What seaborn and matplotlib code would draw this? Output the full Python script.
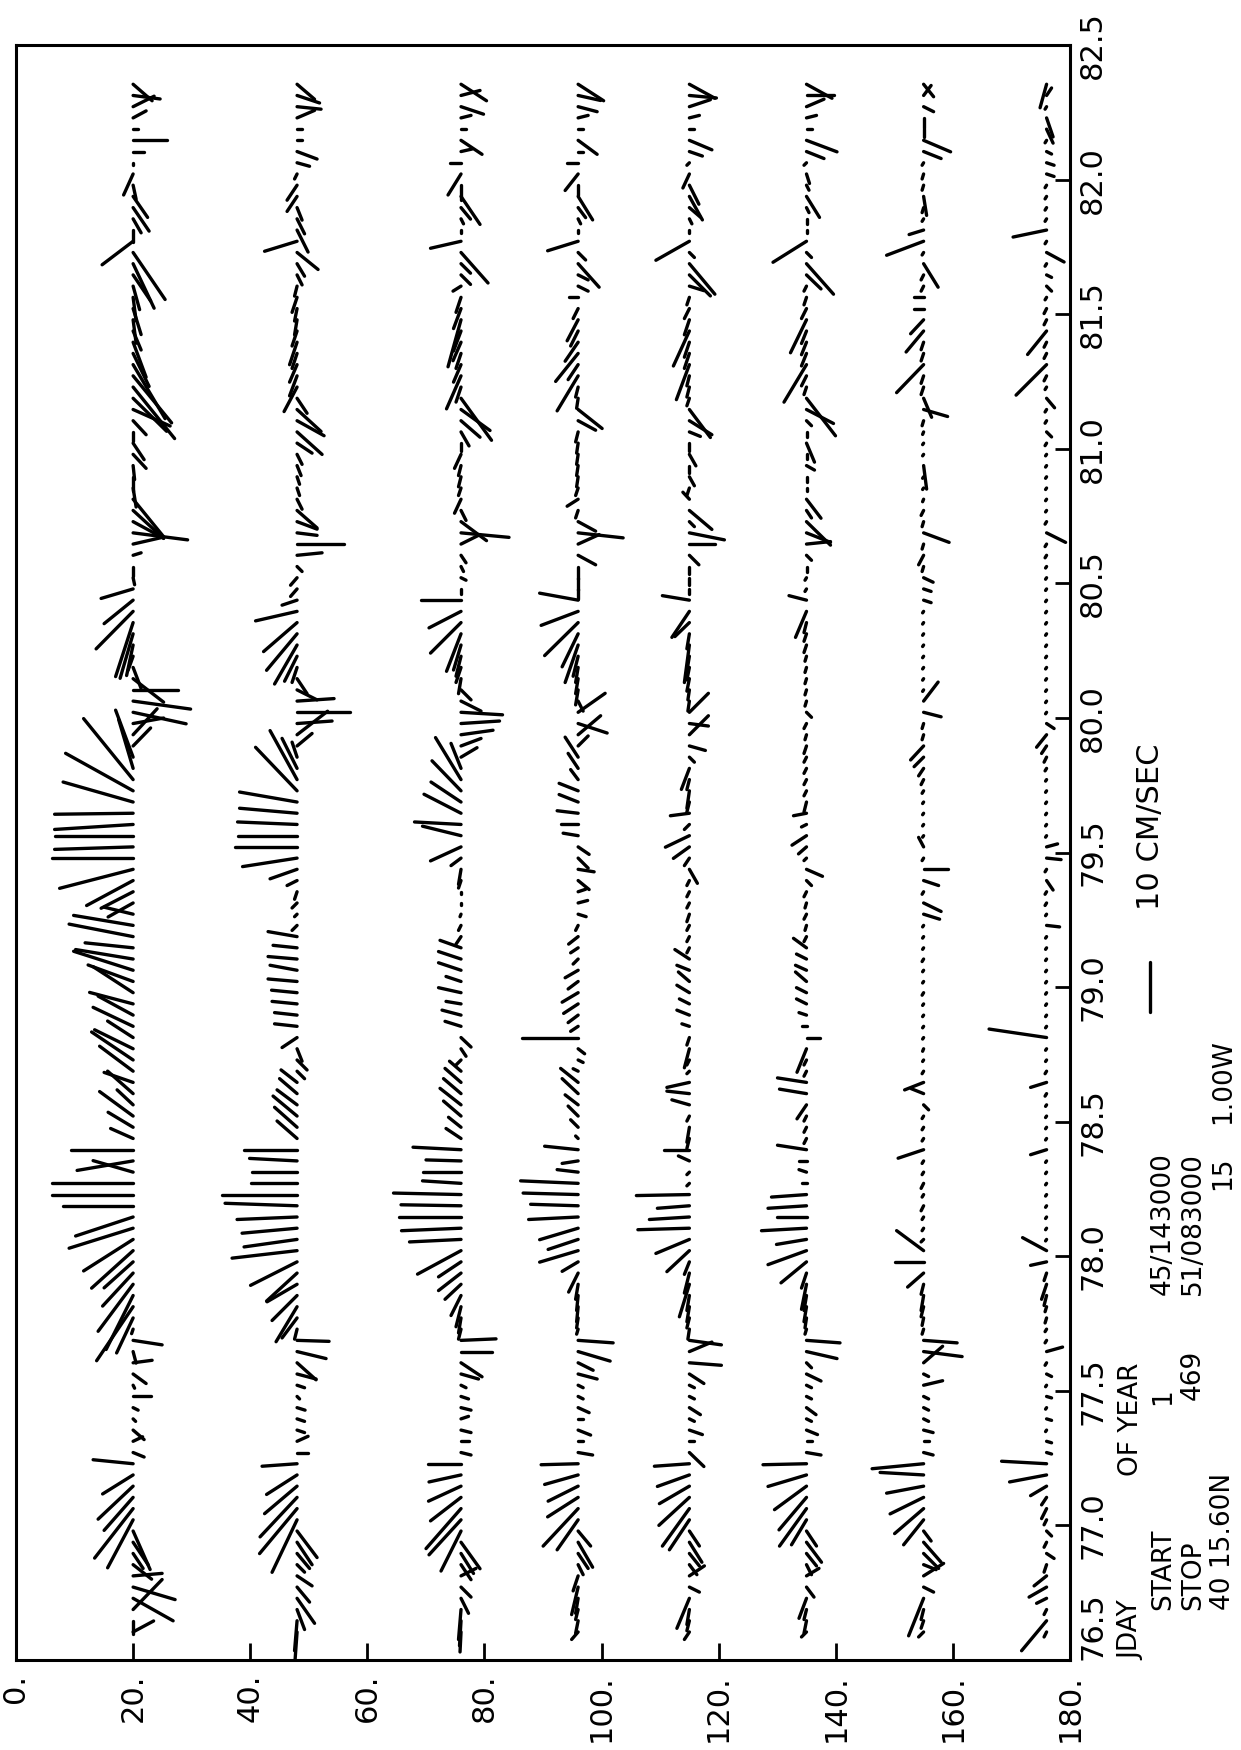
import numpy as np
import matplotlib
matplotlib.use("Agg")
import matplotlib.pyplot as plt
from matplotlib.collections import LineCollection
import seaborn as sns

# ---------------------------------------------------------------------------
# Current-meter stick data: hourly records, 45/143000 -> 51/083000
# JDAY of first record = 76 + 14.5 h
# ---------------------------------------------------------------------------
jday_start = 76.0 + 14.5 / 24.0
n_rec = 139
jday = jday_start + np.arange(n_rec) / 24.0

depths = [20, 48, 76, 96, 115, 135, 155, 176]

# north (v) and east (u) components, cm/s, one list per instrument depth
v20 = [-4.1, 0.0, -5.8, -8.0, -8.4, -5.8, -3.7, -2.0, -3.0, -3.4,
       5.1, 7.7, 5.8, 7.0, 6.1, 8.0, -2.2, -1.9, -2.2, -0.5,
       -1.0, -3.5, -0.3, -2.6, -3.8, -0.6, -5.8, 0.3, 3.3, 7.3,
       5.4, 7.0, 6.1, 5.8, 8.3, 9.9, 12.8, 11.5, 14.0, 16.3,
       16.3, 8.0, 11.2, 12.5, 4.5, 5.0, 6.7, 3.2, 5.1, 5.8,
       6.7, 8.3, 7.7, 5.1, 8.0, 7.0, 8.7, 8.0, 9.0, 11.9,
       11.5, 9.6, 12.8, 11.9, 5.8, 5.0, 6.4, 9.3, 14.7, 16.3,
       15.7, 15.7, 15.7, 15.7, 14.0, 13.5, 9.9, 2.9, 3.5, -3.5,
       -4.8, -6.1, -10.6, -11.5, -9.0, -6.1, -1.6, 1.0, 1.3, 2.6,
       3.5, 7.4, 5.8, 6.4, -0.3, 0.0, -1.6, -6.1, -10.9, -6.1,
       -6.1, -6.1, -0.6, 0.0, -0.3, -2.6, -2.2, 0.0, -2.6, -7.4,
       -6.7, -8.3, -7.7, -6.4, -3.2, -2.6, -1.6, -0.6, -1.6, -0.6,
       -1.3, -3.5, -4.2, -6.4, 6.2, 0.0, -1.6, -3.2, -2.9, -0.6,
       1.9, 0.0, -2.2, -6.7, -1.0, -2.6, -4.2, -5.4, -3.8]
u20 = [2.2, -2.6, 6.0, -4.5, -2.5, 0.5, -2.9, -3.0, -4.5, -7.7,
       -9.6, -9.9, -6.6, -6.6, -3.8, 0.8, -0.9, 0.9, -1.9, -0.5,
       -0.5, 0.0, -0.6, -1.9, 0.5, -2.3, -0.9, -0.9, -7.0, -10.8,
       -10.8, -9.4, -6.6, -5.2, -7.5, -6.3, -4.0, -3.8, 0.0, 0.0,
       0.0, 2.3, -1.9, 0.0, 2.0, 3.0, 4.9, 3.0, 4.5, 2.0,
       5.0, 5.6, 3.8, 3.3, 3.8, 3.8, 2.3, 5.2, 3.3, 3.8,
       1.9, 1.0, 2.5, 2.0, 1.4, -2.8, -3.3, -5.0, -3.8, 0.0,
       -0.5, 0.0, -1.0, -0.2, 4.0, 7.5, 12.2, 9.8, 9.4, 3.6,
       5.2, 1.1, -2.3, -1.6, 0.0, -4.7, -4.2, -2.8, -6.1, -8.9,
       -10.8, -7.5, -4.7, -1.9, -1.4, -1.9, 0.5, 1.4, -1.4, -3.3,
       -5.6, -7.5, -3.8, -2.8, -2.8, -2.8, -3.3, -1.9, -2.8, -3.3,
       -6.6, -10.3, -9.4, -10.8, -6.6, -7.0, -3.8, -4.7, -5.2, -4.7,
       -4.7, -5.2, -8.9, -9.4, -4.7, -2.3, -2.8, -4.7, -4.2, -2.8,
       -4.2, -0.5, 0.0, 0.0, 0.0, 1.4, 2.1, -0.7, -3.3]

v48 = [0.5, 0.5, -1.5, -3.5, -2.5, -3.0, -1.5, -2.5, -3.0, -4.0,
       5.0, 7.5, 7.4, 6.5, 6.1, 7.0, -2.2, -2.2, -1.5, -1.5,
       -1.6, -0.5, -1.5, -3.8, -3.8, -5.8, -6.4, 0.5, 3.0, 4.2,
       5.0, 6.0, 6.1, 9.3, 13.0, 10.6, 11.0, 12.0, 14.4, 15.0,
       9.3, 9.0, 9.5, 10.6, 4.0, 4.5, 4.8, 4.0, 3.5, 3.2,
       -1.5, -2.0, -1.0, 3.0, 4.5, 4.5, 5.0, 5.1, 5.8, 5.4,
       5.8, 4.8, 5.8, 1.0, 0.5, 1.0, 0.5, 2.0, 5.4, 10.9,
       12.5, 11.9, 11.9, 11.5, 11.5, 8.3, 5.4, 3.0, 1.0, -3.0,
       -6.1, -7.0, -10.6, -7.4, -4.0, -2.0, 1.0, 2.5, 4.5, 6.1,
       6.7, 8.3, 3.0, 1.3, 1.3, -1.0, -5.0, -9.3, -4.0, -4.0,
       -4.0, -1.0, -0.5, -0.5, -0.8, -1.0, -3.0, -5.0, -5.4, -4.8,
       -2.0, 2.6, 1.5, 1.5, 1.0, 1.5, 1.0, 0.5, 0.5, 1.0,
       0.5, -1.0, -1.5, -4.2, 6.5, -2.2, -1.5, -1.0, 2.0, 2.0,
       0.5, -2.5, -4.0, -1.0, -1.0, -3.5, -4.8, -4.5, -3.5]
u48 = [-7.0, -6.0, -4.0, -5.0, -3.0, -2.0, -1.5, -3.0, -4.5, -5.3,
       -10.5, -9.0, -7.9, -5.5, -3.9, -0.5, 0.0, 1.0, -0.5, -0.5,
       -0.5, -0.5, -0.5, -1.0, -3.4, -1.4, -0.2, -2.0, -4.0, -7.0,
       -5.0, -3.5, -5.6, -4.7, -1.5, -1.5, -1.0, -0.5, 0.5, 0.0,
       0.0, 0.0, 0.5, 0.0, 3.5, 4.0, 4.0, 3.0, 3.0, 2.5,
       -1.5, -2.0, -2.5, -2.0, 0.5, 0.5, 0.5, 0.5, 0.5, 1.0,
       0.5, 0.5, 1.0, -1.0, -0.5, -1.0, -1.5, -1.0, -1.9, -1.7,
       0.0, 0.0, 0.5, 1.0, 2.0, 8.7, 9.8, 6.0, 3.0, 2.5,
       4.7, 0.5, 0.0, 0.5, -2.0, -3.0, -3.0, -5.0, -7.8, -7.3,
       -5.8, -1.9, -1.0, -1.5, -1.5, -1.0, 0.5, 0.0, -0.5, -1.5,
       -3.5, -2.0, -1.5, -1.5, -2.0, -2.0, -2.0, -4.5, -3.0, -4.4,
       -3.0, -4.9, -4.0, -3.5, -3.0, -4.5, -3.0, -3.0, -2.5, -3.0,
       -2.0, -2.0, -2.5, -3.4, -2.0, -4.4, -3.0, -2.5, -3.0, -3.0,
       -1.0, -0.7, -1.5, 0.0, 0.0, 1.5, -0.5, -1.5, -3.0]

v76 = [0.2, 0.3, 0.5, -1.5, -2.0, -3.0, -2.0, -2.5, -3.8, 4.0,
       6.4, 7.0, 6.1, 6.5, 6.4, 6.7, -2.0, -1.5, -2.0, -1.5,
       -2.0, -1.5, -1.0, -3.5, -4.2, -6.1, -7.0, 0.5, 0.5, 1.0,
       2.0, 3.2, 4.5, 4.5, 8.7, 10.3, 11.9, 12.5, 12.0, 13.5,
       7.7, 7.7, 7.0, 9.6, 3.0, 2.5, 3.5, 4.2, 3.5, 3.2,
       2.3, 1.0, -1.0, -2.0, 3.2, 3.8, 3.0, 4.5, 3.0, 4.5,
       4.5, 4.2, 1.0, 0.5, 0.2, 0.0, 0.0, 0.5, 0.5, 2.0,
       6.1, 7.7, 9.3, 7.4, 6.0, 5.8, 5.1, 2.0, -3.2, -4.0,
       -6.4, -7.7, -8.3, -4.0, -2.0, 0.5, 1.0, 1.0, 1.5, 2.9,
       6.1, 6.4, 8.0, 0.0, -1.0, -0.5, -1.0, -3.8, -9.6, -5.1,
       -1.0, 1.3, 0.5, 0.5, 0.5, 1.3, 0.0, -1.6, -3.8, -5.8,
       -6.1, 1.0, 2.9, 1.5, 1.0, 1.6, 1.5, 2.6, 1.5, 1.0,
       1.6, -1.9, -1.9, -5.4, 6.1, 0.0, -0.5, -1.9, -3.8, 0.0,
       2.6, 2.2, -2.2, -4.2, -1.0, -2.0, -4.5, -3.8, -5.1]
u76 = [-4.0, -5.0, -6.0, -3.0, -2.0, 1.5, -3.0, -4.0, -5.3, -8.0,
       -7.0, -8.0, -4.7, -3.0, -1.4, 0.0, -0.5, 0.0, -0.5, 0.5,
       -0.5, -0.5, -0.5, -1.0, -2.8, 0.0, 0.3, -2.0, -3.0, -4.0,
       -4.0, -3.0, -3.5, -3.0, -4.7, -0.5, -0.5, 0.0, 0.2, 0.3,
       0.5, 0.0, 0.2, 0.5, 2.0, 2.0, 3.0, 3.3, 3.0, 2.8,
       2.0, -1.0, -1.5, -1.9, 1.0, 1.0, 0.5, 1.0, 1.0, 1.5,
       1.5, 1.5, -1.5, -1.0, -0.5, -0.5, -0.5, -1.5, -3.0, -1.5,
       -2.8, 1.9, 0.5, 3.8, 4.0, 6.0, 8.4, 5.0, 1.9, 1.5,
       0.9, 0.5, -0.5, -2.0, -2.0, -3.0, -3.0, -4.0, -5.0, -7.5,
       -6.1, -3.3, 0.0, -1.0, -0.5, -1.0, -1.5, 1.9, -0.9, -3.8,
       -2.0, -2.8, -1.5, -2.0, -2.0, -2.8, -1.5, -2.8, -3.3, -4.2,
       -8.4, -3.0, -6.6, -3.5, -3.0, -3.7, -4.0, -9.4, -4.0, -3.0,
       -1.0, -1.9, -1.9, -6.1, -1.4, -0.5, -1.0, -2.3, -5.6, -3.0,
       -4.2, 0.0, 0.5, -2.8, 0.0, 0.5, -1.5, 1.0, -3.3]

v96 = [1.3, 0.5, 0.5, 0.5, 1.3, 1.0, -1.0, -2.0, -2.9, -2.5,
       4.2, 7.0, 6.1, 6.0, 6.7, 7.4, -2.9, -1.0, -2.5, -1.0,
       -2.2, -1.0, -1.0, -3.8, -3.0, -6.4, -7.0, 0.3, 0.3, 0.3,
       0.3, 0.5, 1.9, 3.2, 7.7, 6.0, 7.7, 9.9, 9.5, 11.0,
       11.5, 4.2, 3.2, 6.7, 0.5, 1.5, 2.0, 2.6, 3.2, 3.5,
       1.0, -1.0, -1.3, 11.2, 1.5, 2.0, 2.9, 3.2, 2.0, 2.6,
       1.0, 1.5, 1.9, 0.5, -1.6, -1.9, -1.5, -2.2, -3.2, -2.0,
       -2.2, 3.0, 3.5, 4.2, 3.8, 3.8, 1.5, 2.0, 2.6, -2.0,
       -4.5, -5.8, -5.4, -1.0, 0.5, 0.5, 0.5, 1.0, 2.6, 3.2,
       6.7, 7.4, 7.7, 0.0, 0.0, 0.0, -3.5, -4.2, -9.0, -3.5,
       0.5, 2.2, 0.5, 0.3, 0.3, 0.3, 0.3, 0.5, -3.5, -4.8,
       0.3, 0.5, 4.2, 2.0, 4.5, 2.6, 1.5, 2.2, 1.0, 1.9,
       -2.0, -2.0, -4.2, -1.5, 6.1, 0.0, -0.5, -1.5, -2.9, 0.0,
       2.6, 2.2, -1.0, -3.8, -1.0, -2.0, -3.8, -4.5, -5.1]
u96 = [-1.5, -2.5, -2.0, -3.0, -5.5, -3.0, -2.0, -3.0, -5.0, -3.0,
       -6.0, -7.5, -3.9, -3.0, -1.9, -0.2, -0.5, 0.0, -1.0, 0.0,
       -1.0, -0.5, -0.5, -1.0, -1.5, -1.9, -0.5, -1.0, -2.0, -3.0,
       -3.0, -3.0, -3.8, -1.9, -2.3, -2.0, -2.3, -0.5, 0.3, 0.3,
       0.5, 0.5, -0.5, 0.7, 0.5, 1.5, 2.0, 2.0, 3.0, 2.8,
       0.5, -0.5, -1.0, 0.0, -1.0, -1.5, -1.9, -1.9, -1.5, -1.5,
       -1.0, -1.0, -1.5, -1.0, -0.5, 0.5, 0.5, -1.8, -0.5, -2.0,
       -1.5, 0.5, 0.0, 0.5, 1.5, 1.5, 2.0, 3.0, 4.0, 2.0,
       3.8, -1.9, 3.8, -2.0, -3.0, -3.0, -3.0, -4.0, -7.5, -6.6,
       -6.6, -2.8, 1.4, -2.0, -2.5, -2.5, -1.9, 1.9, -1.0, -1.9,
       -1.5, -1.4, -1.5, -2.0, -2.0, -2.0, -2.0, -2.0, -1.9, -3.8,
       -2.0, -2.0, -7.0, -3.0, -5.6, -3.8, -3.0, -4.2, -2.0, 0.0,
       -1.0, -1.0, -4.7, -1.5, -1.9, -0.5, -1.0, -2.0, -4.7, -2.0,
       -3.3, 0.0, 0.0, -2.8, 0.0, 0.5, -1.0, -1.0, -3.3]

v115 = [1.0, 0.5, 0.5, 2.5, -2.0, -3.0, -1.5, -2.0, -2.5, -2.0,
        4.0, 5.4, 6.1, 6.0, 6.4, 7.0, -2.9, -1.0, -2.6, -1.0,
        -2.2, -1.0, -1.0, -2.9, -6.4, -4.5, -6.4, 0.3, 0.5, 0.5,
        0.5, 2.0, 1.0, 1.0, 4.5, 6.7, 10.3, 8.0, 6.4, 10.6,
        0.5, 0.5, 2.2, 5.1, 0.5, 0.5, 0.5, 3.5, 4.5, 4.5,
        0.5, 0.5, 1.0, 0.5, 1.5, 2.5, 2.0, 2.5, 2.2, 2.5,
        2.9, 0.5, 0.5, 0.5, 0.5, 0.5, 0.5, 0.5, -1.6, 1.0,
        3.2, 4.8, 1.0, 3.8, 0.5, 0.5, 0.5, 1.6, -1.0, -3.2,
        -3.8, -3.8, -3.8, 0.3, 0.3, 0.5, 0.5, 0.5, 1.0, 0.5,
        2.9, 3.5, 5.4, 0.0, 0.0, 0.0, -1.9, -5.1, -7.0, -1.0,
        -4.5, 1.3, 0.5, -1.0, 0.0, -1.3, 0.0, -2.2, -4.5, -4.2,
        0.5, 0.5, 0.5, 2.6, 1.0, 1.0, 3.2, 1.0, 1.0, 0.5,
        -2.9, -4.2, -5.1, -1.0, 6.7, 0.0, -0.5, -2.2, -2.6, -1.9,
        1.3, 0.5, -2.6, -4.5, -1.0, -2.0, -4.2, -5.4, -5.1]
u115 = [-1.5, -2.0, -3.0, -6.0, -1.0, 2.0, -2.0, -2.5, -4.0, -3.0,
        -6.0, -7.5, -5.6, -3.5, -2.3, -0.5, -2.8, 0.0, -0.9, -0.5,
        -1.4, -0.5, -0.5, -1.9, -0.5, 1.9, -0.9, -2.0, -2.0, -3.0,
        -3.0, -6.5, -4.0, -2.5, -4.2, -2.8, -0.3, -0.5, -0.5, -0.2,
        -0.5, -0.5, 1.0, 0.0, -2.0, -3.0, -1.0, 1.0, 0.5, -1.0,
        -0.5, -1.0, -3.8, -1.5, 0.5, 1.0, 1.0, 1.5, 1.9, 1.0,
        1.9, -1.0, -1.0, -1.0, -1.5, -1.0, -1.0, -1.0, -2.8, -1.5,
        -2.3, -2.3, -1.0, -0.5, -2.0, -3.5, -2.0, -4.2, -1.0, -0.9,
        3.8, -0.5, 3.8, -2.0, -2.0, -2.5, -2.5, -3.0, -7.5, -3.0,
        -2.8, -5.2, 0.9, -1.0, -1.5, -1.5, -1.9, 0.0, -1.4, -1.0,
        -3.8, 1.4, -1.5, -1.8, -1.5, -2.3, -1.5, -0.9, -2.8, -5.6,
        -1.5, -2.0, -2.0, -7.0, -3.0, -3.0, -7.0, -3.0, -2.0, -1.5,
        -0.9, -4.2, -6.1, -1.0, -3.8, -0.5, -1.0, -1.9, -4.7, -3.8,
        -2.8, -0.5, -0.9, -1.9, 0.0, 0.5, 1.4, -0.5, -2.8]

v135 = [1.0, 0.5, 0.5, 1.5, -1.5, -2.5, -1.0, -2.0, -3.0, -2.0,
        3.0, 5.4, 5.5, 6.4, 7.7, 8.7, -2.9, -1.0, -2.2, -1.0,
        -1.9, -1.0, -1.0, -2.9, -1.0, -6.1, -6.7, 0.3, 0.3, 0.5,
        0.5, 1.0, 1.0, 5.1, 7.7, 6.0, 9.0, 6.0, 7.7, 7.0,
        1.0, 1.5, 1.5, 5.8, 0.5, 0.5, 0.5, 1.9, 5.4, 5.8,
        0.5, 0.5, 1.9, -2.6, 1.0, 1.5, 2.0, 2.0, 2.2, 2.2,
        2.0, 2.6, 0.5, 0.3, 0.5, 0.3, 0.5, -1.0, -3.2, 0.5,
        1.6, 2.9, 1.0, 2.6, 0.5, 0.5, 0.5, 0.5, 0.5, 0.5,
        0.3, 0.5, -1.0, 0.3, 0.3, 0.3, 0.3, 0.3, 0.5, 0.5,
        0.5, 2.2, 3.5, 0.3, 0.3, 0.0, -1.0, -4.8, -4.8, -4.8,
        -1.0, -2.9, 0.0, 0.0, -1.6, 0.0, -1.6, 0.0, -1.0, -5.4,
        -5.8, 0.5, 1.0, 4.5, 1.0, 1.0, 1.0, 3.2, 1.0, 0.5,
        0.5, -2.9, -5.4, -1.0, 6.7, 0.0, 0.0, -0.5, -2.6, -0.5,
        -0.6, 0.5, -3.5, -6.1, -1.0, -2.0, -3.5, -5.4, -5.1]
u135 = [-1.0, -2.5, -2.0, -4.0, -2.0, 1.5, -2.0, -2.5, -4.0, -3.0,
        -5.0, -7.5, -6.5, -4.7, -2.3, -0.2, -0.5, 0.0, -0.9, -0.5,
        -1.4, -0.5, -0.5, -1.4, -1.0, -1.4, -0.5, -1.0, -2.0, -3.0,
        -3.0, -5.0, -3.0, -4.2, -2.8, -1.0, -0.5, 0.0, -0.5, -0.5,
        0.0, 0.5, 0.0, 0.9, -1.0, -1.0, -1.0, -2.8, 0.9, 0.9,
        -1.0, -1.0, -4.7, 0.0, 0.0, 0.5, 1.0, 1.0, 1.9, 1.0,
        1.0, 1.9, -1.0, -1.0, -1.0, -1.0, -1.0, -1.0, -1.4, -0.5,
        -1.4, -1.9, -0.5, -0.5, -2.0, -1.0, -1.0, -1.0, -1.0, -1.5,
        -1.0, -1.0, -1.0, -1.0, -1.0, -1.0, -1.0, -1.0, -1.5, -1.5,
        -2.0, -5.2, 0.9, -0.5, -0.5, -1.0, -1.0, 0.5, -1.9, -4.7,
        -1.5, -3.8, -0.5, -1.0, -0.9, -1.0, -3.8, -1.0, -1.0, -2.8,
        -7.5, -1.5, -2.0, -7.5, -2.5, -2.5, -2.5, -6.6, -2.0, -1.5,
        -1.0, -2.8, -6.1, -1.0, -4.2, -0.5, -1.0, -1.0, -4.2, -1.0,
        -1.9, -0.5, -1.4, -2.3, 0.0, 0.5, 1.5, 0.0, -2.8]

v155 = [1.0, 0.5, 0.5, 3.0, -2.0, -4.0, -2.5, -3.0, -3.5, -1.5,
        4.0, 5.8, 6.7, 7.4, 8.7, 10.3, -1.9, -1.0, -1.9, -1.0,
        -1.0, -1.0, -3.8, -1.0, -3.8, -7.7, -6.7, 0.3, 0.3, 0.5,
        0.5, 0.5, 3.2, 5.8, 5.4, 0.5, 0.3, 0.3, 0.5, 0.3,
        0.5, 0.3, 0.3, 5.1, 0.3, 0.3, 0.3, -1.0, 2.5, 3.8,
        0.3, 0.2, 0.2, 0.2, 0.2, 0.2, 0.2, 0.3, 0.2, 0.2,
        0.3, 0.2, 0.2, 0.2, -3.2, -3.5, 0.3, -3.0, -4.8, 0.3,
        1.0, 0.2, 0.2, 0.2, 0.2, 0.3, 0.5, 1.0, 1.9, 2.6,
        0.3, 0.3, -3.5, -2.9, 0.2, 0.2, 0.2, 0.2, 0.2, 0.2,
        0.2, 0.2, -1.5, -1.5, -1.9, 0.3, 1.0, 0.3, -5.1, 0.3,
        0.5, 0.2, 0.2, 0.2, -0.6, 0.2, 0.2, 0.2, 0.3, -4.8,
        -1.6, 0.5, 0.5, 5.4, 0.5, 0.5, 3.5, 2.6, 1.9, 1.9,
        0.5, 0.5, -2.9, 0.3, 7.4, 2.9, 0.3, 0.3, -0.6, 0.3,
        0.3, 0.3, -3.5, -5.4, 0.0, 0.0, -2.0, -1.5, -2.0]
u155 = [-1.0, -1.5, -2.0, -7.5, -1.0, 2.5, -1.0, -3.0, -4.0, -2.0,
        -5.0, -5.0, -3.3, -1.4, 0.5, -1.0, -0.5, 0.0, -0.5, -0.5,
        -0.5, -0.5, 0.9, -0.5, 3.3, -1.0, -0.5, -1.0, -1.5, -2.0,
        -3.0, -2.0, -2.8, 0.0, 4.0, -0.5, -0.5, -0.5, -1.0, -0.5,
        -1.0, -0.5, -0.5, -1.7, -0.5, -0.5, -0.5, -1.0, 1.0, -1.5,
        -0.5, -0.3, -0.5, -0.3, -0.3, -0.3, -0.3, -0.5, -0.3, -0.3,
        -0.5, -0.3, -0.3, -0.3, -1.0, -1.7, -0.5, -1.0, 0.0, -0.5,
        1.9, -0.3, -0.3, -0.3, -0.3, -0.5, -1.0, -1.5, -1.9, -2.8,
        -1.0, -1.0, -0.9, 3.8, -0.3, -0.3, -0.3, -0.3, -0.3, -0.3,
        -0.3, -0.3, -0.5, -0.5, -0.9, -1.0, -1.9, -1.0, -1.9, -1.0,
        -1.0, -0.5, -0.3, -0.3, -4.7, -0.3, -0.3, -0.5, -1.0, -1.4,
        -3.8, -1.5, -1.5, -5.6, -1.5, -1.5, -4.2, -2.8, 0.0, 0.0,
        -1.0, -1.0, -4.7, -0.5, -2.8, -0.9, -0.5, -1.0, -3.8, -1.0,
        -1.0, -0.5, -1.4, -2.3, -1.5, -2.0, -1.0, 2.0, -2.5]

v176 = [0.5, 5.0, 0.5, 2.0, 3.5, 2.5, 0.5, -1.5, 0.5, -1.0,
        0.5, 1.0, 1.0, 3.2, 7.4, 9.0, -1.0, -1.0, 0.2, -1.0,
        0.2, -1.0, 0.2, -1.0, 0.3, -3.2, 0.3, 0.3, 0.3, 0.3,
        0.5, 1.0, 0.5, 3.2, 4.8, 0.2, 0.2, 0.2, 0.2, 0.2,
        0.2, 0.2, 0.2, 3.2, 0.2, 0.2, 0.2, 0.2, 0.3, 3.2,
        0.3, 0.2, 0.2, 11.5, 0.2, 0.2, 0.2, 0.2, 0.2, 0.2,
        0.2, 0.2, 0.2, -2.6, 0.2, 0.3, 0.3, -1.3, 0.3, -2.9,
        -2.2, 0.2, 0.2, 0.2, 0.2, 0.2, 0.2, 0.3, 0.5, 1.0,
        2.0, -1.5, 0.2, 0.2, 0.2, 0.2, 0.2, 0.2, 0.2, 0.2,
        0.2, 0.2, 0.2, 0.2, 0.2, 0.2, 0.3, 0.3, -3.8, 0.3,
        0.2, 0.2, 0.2, 0.2, 0.2, 0.2, 0.3, -1.0, 0.3, 0.3,
        -1.6, 0.3, 0.5, 6.1, 0.5, 0.5, 3.8, 0.5, 0.5, 0.3,
        -1.0, -1.0, 0.3, -3.5, 0.3, 6.7, 0.3, 0.3, 0.3, 0.3,
        -1.5, -1.5, -1.0, 0.3, -1.3, -1.3, 0.3, -1.0, 1.3]
u176 = [-1.0, -6.0, -1.0, -1.0, -2.0, -2.0, -1.5, -1.0, -1.0, -1.0,
        -1.0, -2.0, -1.5, -1.9, -1.4, 0.5, -0.3, -0.3, -0.3, -0.3,
        -0.3, -0.3, -0.3, -0.5, -0.5, 0.9, -0.5, -0.5, -1.0, -1.0,
        -2.0, -3.0, -1.5, -0.7, 2.6, -0.3, -0.3, -0.3, -0.3, -0.3,
        -0.3, -0.3, -0.3, -1.0, -0.3, -0.3, -0.3, -0.3, -0.5, -1.0,
        -0.5, -0.3, -0.3, 1.7, -0.3, -0.3, -0.3, -0.3, -0.3, -0.3,
        -0.3, -0.3, -0.3, -0.3, -0.3, -0.5, -0.5, -1.9, -0.5, -0.3,
        0.6, -0.3, -0.3, -0.3, -0.3, -0.3, -0.3, -0.5, -1.0, -1.5,
        -2.5, -1.0, -0.3, -0.3, -0.3, -0.3, -0.3, -0.3, -0.3, -0.3,
        -0.3, -0.3, -0.3, -0.3, -0.3, -0.3, -0.5, -0.5, -1.9, -0.5,
        -0.3, -0.3, -0.3, -0.3, -0.3, -0.3, -0.5, -1.0, -0.5, -0.5,
        -1.9, -0.5, -1.0, -6.1, -1.0, -1.0, -4.7, -1.0, -1.0, -0.5,
        -1.0, -0.5, -0.5, -1.9, -0.5, -1.4, -0.5, -0.5, -0.5, -0.5,
        -0.5, -0.5, -0.5, -0.5, -2.8, -3.8, -0.5, 1.5, -4.7]

north = [v20, v48, v76, v96, v115, v135, v155, v176]
east = [u20, u48, u76, u96, u115, u135, u155, u176]

depth_ticks = [0, 20, 40, 60, 80, 100, 120, 140, 160, 180]
jday_ticks = [76.5, 77.0, 77.5, 78.0, 78.5, 79.0, 79.5, 80.0, 80.5, 81.0, 81.5, 82.0, 82.5]

# ---------------------------------------------------------------------------
# Page layout (landscape plot drawn rotated on a portrait page)
# ---------------------------------------------------------------------------
sns.set_theme(style="white")
plt.rcParams["font.family"] = ["DejaVu Sans"]

W_PX, H_PX, DPI = 1241, 1750, 100
fig = plt.figure(figsize=(W_PX / DPI, H_PX / DPI), dpi=DPI)
fig.patch.set_facecolor("white")

ax_l, ax_r, ax_t, ax_b = 16, 1070, 45, 1660          # frame in page pixels
ax = fig.add_axes([ax_l / W_PX, 1 - ax_b / H_PX,
                   (ax_r - ax_l) / W_PX, (ax_b - ax_t) / H_PX])
ax.set_xlim(0, 180)
ax.set_ylim(76.5, 82.5)
ax.set_facecolor("white")

px_per_depth = (ax_r - ax_l) / 180.0
px_per_day = (ax_b - ax_t) / 6.0
k = 5.0                       # stick length, pixels per cm/s

for d, v, u in zip(depths, north, east):
    v = np.asarray(v)
    u = np.asarray(u)
    base = np.column_stack([np.full(n_rec, d, dtype=float), jday])
    tip = np.column_stack([d - v * k / px_per_depth, jday + u * k / px_per_day])
    segs = np.stack([base, tip], axis=1)
    ax.add_collection(LineCollection(segs, colors="black", linewidths=2.4,
                                     capstyle="round"))

for sp in ax.spines.values():
    sp.set_visible(True)
    sp.set_color("black")
    sp.set_linewidth(2.2)

FS = 22        # tick labels
FS_NOTE = 19   # header block beside the time axis

ax.set_xticks(depth_ticks)
ax.set_xticklabels([f"{t}." for t in depth_ticks], rotation=90)
ax.tick_params(axis="x", direction="in", length=12, width=2.0, pad=10,
               labelsize=FS, bottom=True, top=False, colors="black")

ax.yaxis.tick_right()
ax.set_yticks(jday_ticks)
ylabels = ax.set_yticklabels([f"{t:.1f}" for t in jday_ticks], rotation=90,
                             va="center")
ylabels[0].set_va("bottom")
ax.tick_params(axis="y", direction="in", length=11, width=2.0, pad=6,
               labelsize=FS, right=True, left=False, colors="black")
ax.grid(False)


def page_text(s, x_px, y_px, size=FS_NOTE):
    fig.text(x_px / W_PX, 1 - y_px / H_PX, s, rotation=90, ha="center",
             va="bottom", fontsize=size, color="black")


page_text("JDAY", 1131, 1660)
page_text("OF YEAR", 1131, 1476)
page_text("START", 1163, 1610)
page_text("1", 1163, 1405)
page_text("45/143000", 1163, 1295)
page_text("STOP", 1193, 1610)
page_text("469", 1193, 1400)
page_text("51/083000", 1193, 1295)
page_text("40 15.60N", 1223, 1610)
page_text("15", 1223, 1190)
page_text("1.00W", 1223, 1124)

# speed scale: a 10 cm/s east stick
scale_col = 1150
scale_x = (scale_col - ax_l) / px_per_depth
scale_t0 = 76.5 + (ax_b - 1012) / px_per_day
ax.plot([scale_x, scale_x], [scale_t0, scale_t0 + 10 * k / px_per_day],
        color="black", lw=2.4, clip_on=False, solid_capstyle="round")
page_text("10 CM/SEC", scale_col, 910, size=FS)

fig.savefig("out.png", dpi=DPI)
